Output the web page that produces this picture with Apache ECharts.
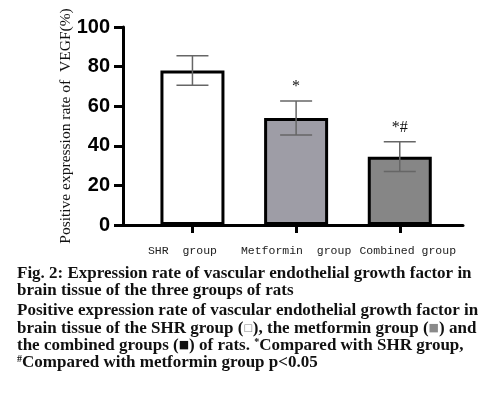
<!DOCTYPE html>
<html>
<head>
<meta charset="utf-8">
<script src="https://cdn.jsdelivr.net/npm/echarts@6/dist/echarts.min.js"></script>
<style>
html, body { margin: 0; padding: 0; background: #fff; }
#chart { width: 485px; height: 397px; }
</style>
</head>
<body>
<div id="chart"></div>
<script>
// data
var categories = ['SHR  group', 'Metformin  group', 'Combined group'];
var positions = [1, 2, 3];
var means = [78, 54, 34.5];
var errLow = [70.6, 45.5, 27];
var errHigh = [85.5, 62.6, 42];
var marks = ['', '*', '*#'];
var barColors = ['#ffffff', '#9e9da6', '#868686'];
var yTicks = [0, 20, 40, 60, 80, 100];

var captionLines = [
	'{b|Fig. 2: Expression rate of vascular endothelial growth factor in}',
	'{b|brain tissue of the three groups of rats}',
	'{b|Positive expression rate of vascular endothelial growth factor in}',
	'{b|brain tissue of the SHR group (}{sqo|□}{b|), the metformin group (}{sqg|■}{b|) and}',
	'{b|the combined groups (}{sqb|■}{b|) of rats. }{sup|*}{b|Compared with SHR group,}',
	'{sup|#}{b|Compared with metformin group p<0.05}'
];

var barData = [];
var errData = [];
for (var i = 0; i < categories.length; i++) {
	barData.push({
		value: [positions[i], means[i]],
		itemStyle: { color: barColors[i] }
	});
	errData.push([positions[i], errLow[i], errHigh[i], i]);
}

var captionRich = {
	b: { fontFamily: 'Liberation Serif', fontWeight: 'bold', fontSize: 17, fill: '#111' },
	sup: { fontFamily: 'Liberation Serif', fontWeight: 'bold', fontSize: 10, fill: '#111', verticalAlign: 'top', padding: [0, 0, 7, 0] },
	sqo: { fontFamily: 'DejaVu Sans', fontSize: 10, fill: '#888' },
	sqg: { fontFamily: 'DejaVu Sans', fontSize: 11, fill: '#8a8a8a' },
	sqb: { fontFamily: 'DejaVu Sans', fontSize: 11, fill: '#111' }
};

var graphics = [];
for (var j = 0; j < captionLines.length; j++) {
	graphics.push({
		type: 'text',
		left: 17,
		top: 265 + j * 17.4 + (j >= 2 ? 2.5 : 0),
		style: {
			text: captionLines[j],
			rich: captionRich,
			font: 'bold 17px "Liberation Serif"'
		}
	});
}

// small horizontal nudges of the three x labels, as in the figure
var labelStyle = { fontFamily: 'Liberation Mono', fontSize: 11.5, color: '#222' };
var labelRich = {
	l0: Object.assign({ padding: [0, 20, 0, 0] }, labelStyle),
	l1: Object.assign({ padding: [0, 0, 0, 0] }, labelStyle),
	l2: Object.assign({ padding: [0, 0, 0, 16] }, labelStyle)
};

var chart = echarts.init(document.getElementById('chart'));
var option = {
	animation: false,
	grid: { left: 123, right: 22, top: 27, bottom: 172 },
	xAxis: {
		type: 'value',
		min: 0.33,
		max: 3.61,
		splitLine: { show: false },
		axisLine: { show: true, onZero: false, lineStyle: { color: '#000', width: 3 } },
		axisTick: { show: true, customValues: positions, length: 8, lineStyle: { color: '#000', width: 3 } },
		axisLabel: {
			customValues: positions,
			hideOverlap: false,
			showMinLabel: true,
			showMaxLabel: true,
			margin: 20,
			fontFamily: 'Liberation Mono',
			fontSize: 11.5,
			color: '#222',
			rich: labelRich,
			formatter: function (v) {
				var k = Math.round(v) - 1;
				return '{l' + k + '|' + categories[k] + '}';
			}
		}
	},
	yAxis: {
		type: 'value',
		min: yTicks[0],
		max: yTicks[yTicks.length - 1],
		interval: 20,
		name: 'Positive expression rate of  VEGF(%)',
		nameLocation: 'middle',
		nameGap: 49,
		nameMoveOverlap: false,
		nameTextStyle: { fontFamily: 'Liberation Serif', fontSize: 15.5, color: '#111' },
		splitLine: { show: false },
		axisLine: { show: true, lineStyle: { color: '#000', width: 3 } },
		axisTick: { show: true, length: 9, lineStyle: { color: '#000', width: 3 } },
		axisLabel: {
			margin: 13,
			fontFamily: 'Liberation Sans',
			fontWeight: 'bold',
			fontSize: 20,
			color: '#000'
		}
	},
	graphic: graphics,
	series: [
		{
			type: 'bar',
			data: barData,
			barWidth: 64,
			itemStyle: { borderColor: '#000', borderWidth: 3 }
		},
		{
			type: 'custom',
			data: errData,
			z: 5,
			renderItem: function (params, api) {
				var x = api.value(0);
				var lo = api.coord([x, api.value(1)]);
				var hi = api.coord([x, api.value(2)]);
				var half = 16;
				var ls = { stroke: '#666', lineWidth: 1.5 };
				return {
					type: 'group',
					children: [
						{ type: 'line', shape: { x1: lo[0], y1: lo[1], x2: hi[0], y2: hi[1] }, style: ls },
						{ type: 'line', shape: { x1: hi[0] - half, y1: hi[1], x2: hi[0] + half, y2: hi[1] }, style: ls },
						{ type: 'line', shape: { x1: lo[0] - half, y1: lo[1], x2: lo[0] + half, y2: lo[1] }, style: ls },
						{
							type: 'text',
							style: {
								x: hi[0], y: hi[1] - 6,
								text: marks[api.value(3)],
								fontFamily: 'Liberation Serif',
								fontSize: 16,
								fill: '#111',
								align: 'center',
								verticalAlign: 'bottom'
							}
						}
					]
				};
			}
		}
	]
};
chart.setOption(option);
</script>
</body>
</html>
